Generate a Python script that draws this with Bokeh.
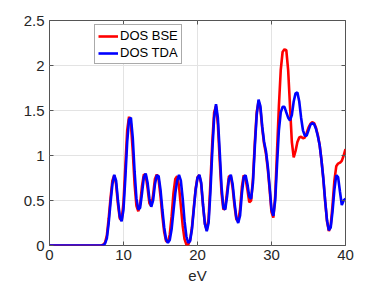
from bokeh.plotting import figure
from bokeh.models import LinearAxis, Range1d, Legend, LegendItem, FixedTicker
from bokeh.embed import file_html
from bokeh.resources import INLINE

# energy grid (eV) and read-off DOS values
ev = [0.0, 3.0, 6.0, 7.0, 7.25, 7.5, 7.75, 8.0, 8.25, 8.5, 8.75, 9.0, 9.25, 9.5, 9.75,
      10.0, 10.25, 10.5, 10.75, 11.0, 11.25, 11.5, 11.75, 12.0, 12.25, 12.5, 12.75,
      13.0, 13.25, 13.5, 13.75, 14.0, 14.25, 14.5, 14.75, 15.0, 15.25, 15.5, 15.75,
      16.0, 16.25, 16.5, 16.75, 17.0, 17.25, 17.5, 17.75, 18.0, 18.25, 18.5, 18.75,
      19.0, 19.25, 19.5, 19.75, 20.0, 20.25, 20.5, 20.75, 21.0, 21.25, 21.5, 21.75,
      22.0, 22.25, 22.5, 22.75, 23.0, 23.25, 23.5, 23.75, 24.0, 24.25, 24.5, 24.75,
      25.0, 25.25, 25.5, 25.75, 26.0, 26.25, 26.5, 26.75, 27.0, 27.25, 27.5, 27.75,
      28.0, 28.25, 28.5, 28.75, 29.0, 29.25, 29.5, 29.75, 30.0, 30.25, 30.5, 30.75,
      31.0, 31.25, 31.5, 31.75, 32.0, 32.25, 32.5, 32.75, 33.0, 33.25, 33.5, 33.75,
      34.0, 34.25, 34.5, 34.75, 35.0, 35.25, 35.5, 35.75, 36.0, 36.25, 36.5, 36.75,
      37.0, 37.25, 37.5, 37.75, 38.0, 38.25, 38.5, 38.75, 39.0, 39.25, 39.5, 39.75, 40.0]

dos_tda = [0.0, 0.0, 0.0, 0.0, 0.005, 0.02, 0.08, 0.25, 0.48, 0.68, 0.785, 0.72, 0.50, 0.32, 0.27,
           0.40, 0.75, 1.15, 1.40, 1.42, 1.20, 0.82, 0.52, 0.40, 0.42, 0.58, 0.76,
           0.80, 0.70, 0.52, 0.43, 0.50, 0.68, 0.78, 0.77, 0.62, 0.40, 0.20, 0.07,
           0.03, 0.06, 0.18, 0.38, 0.58, 0.72, 0.785, 0.72, 0.52, 0.27, 0.10, 0.03,
           0.05, 0.18, 0.40, 0.62, 0.75, 0.785, 0.70, 0.45, 0.24, 0.16, 0.25, 0.60,
           1.05, 1.42, 1.57, 1.42, 1.05, 0.65, 0.42, 0.40, 0.55, 0.74, 0.785, 0.68,
           0.48, 0.31, 0.25, 0.33, 0.58, 0.76, 0.78, 0.68, 0.54, 0.52, 0.70, 1.10,
           1.45, 1.62, 1.55, 1.32, 1.15, 1.05, 0.88, 0.65, 0.40, 0.33, 0.50, 0.90,
           1.28, 1.48, 1.54, 1.54, 1.48, 1.42, 1.39, 1.45, 1.60, 1.69, 1.70, 1.60,
           1.42, 1.28, 1.22, 1.22, 1.28, 1.34, 1.36, 1.35, 1.30, 1.22, 1.12, 0.95,
           0.75, 0.50, 0.28, 0.17, 0.20, 0.38, 0.62, 0.78, 0.76, 0.60, 0.45, 0.50, 0.52]

dos_bse = [0.0, 0.0, 0.0, 0.0, 0.01, 0.03, 0.11, 0.30, 0.53, 0.72, 0.78, 0.68, 0.46, 0.30, 0.28,
           0.48, 0.88, 1.28, 1.43, 1.35, 1.05, 0.68, 0.44, 0.38, 0.46, 0.66, 0.79,
           0.78, 0.64, 0.47, 0.44, 0.56, 0.74, 0.79, 0.73, 0.55, 0.33, 0.15, 0.05,
           0.04, 0.12, 0.32, 0.58, 0.74, 0.77, 0.66, 0.44, 0.22, 0.07, 0.01, 0.01,
           0.06, 0.20, 0.42, 0.63, 0.76, 0.78, 0.68, 0.44, 0.24, 0.17, 0.30, 0.70,
           1.15, 1.48, 1.55, 1.35, 0.95, 0.58, 0.40, 0.42, 0.60, 0.77, 0.77, 0.64,
           0.44, 0.29, 0.27, 0.40, 0.65, 0.78, 0.74, 0.62, 0.48, 0.50, 0.75, 1.15,
           1.48, 1.60, 1.52, 1.30, 1.13, 1.02, 0.85, 0.62, 0.37, 0.31, 0.55, 1.05,
           1.55, 1.95, 2.15, 2.18, 2.17, 1.95, 1.55, 1.15, 0.98, 1.05, 1.15, 1.20,
           1.21, 1.19, 1.20, 1.25, 1.31, 1.35, 1.37, 1.36, 1.31, 1.23, 1.12, 0.95,
           0.74, 0.49, 0.27, 0.16, 0.22, 0.45, 0.72, 0.88, 0.91, 0.92, 0.94, 1.00, 1.07]

x_ticks = [0, 10, 20, 30, 40]
y_ticks = [0, 0.5, 1, 1.5, 2, 2.5]
y_tick_labels = {0: "0", 0.5: "0.5", 1: "1", 1.5: "1.5", 2: "2", 2.5: "2.5"}

FONT = "Liberation Sans"
AX = "#262626"
TICK = "#555555"

p = figure(width=382, height=286, output_backend="svg", toolbar_location=None,
           x_range=Range1d(0, 40), y_range=Range1d(0, 2.5),
           min_border_left=49, min_border_right=37, min_border_top=20, min_border_bottom=40)
p.background_fill_color = "white"
p.border_fill_color = "white"
p.outline_line_color = TICK
p.outline_line_width = 1

r_bse = p.line(ev, dos_bse, line_color="#ff0000", line_width=2.6)
r_tda = p.line(ev, dos_tda, line_color="#0000ff", line_width=2.6)

# bottom axis
xa = p.xaxis[0]
xa.ticker = FixedTicker(ticks=x_ticks)
xa.axis_label = "eV"
xa.axis_label_text_font = FONT
xa.axis_label_text_font_size = "15px"
xa.axis_label_text_font_style = "normal"
xa.axis_label_text_color = AX
xa.axis_label_standoff = 4
xa.major_label_text_font = FONT
xa.major_label_text_font_size = "15px"
xa.major_label_text_color = AX
xa.major_label_standoff = 4
xa.major_tick_in = 4
xa.major_tick_out = 0
xa.minor_tick_line_color = None
xa.axis_line_color = None
xa.major_tick_line_color = TICK

ya = p.yaxis[0]
ya.ticker = FixedTicker(ticks=y_ticks)
ya.major_label_overrides = y_tick_labels
ya.major_label_text_font = FONT
ya.major_label_text_font_size = "15px"
ya.major_label_text_color = AX
ya.major_label_standoff = 5
ya.major_tick_in = 4
ya.major_tick_out = 0
ya.minor_tick_line_color = None
ya.axis_line_color = None
ya.major_tick_line_color = TICK

# mirrored tick marks on the top and right (no labels)
top = LinearAxis(ticker=FixedTicker(ticks=x_ticks), major_label_text_color=None,
                 major_tick_in=4, major_tick_out=0, minor_tick_line_color=None,
                 axis_line_color=None, major_tick_line_color=TICK, major_label_standoff=0)
right = LinearAxis(ticker=FixedTicker(ticks=y_ticks), major_label_text_color=None,
                   major_tick_in=4, major_tick_out=0, minor_tick_line_color=None,
                   axis_line_color=None, major_tick_line_color=TICK, major_label_standoff=0)
p.add_layout(top, "above")
p.add_layout(right, "right")

p.xgrid.ticker = FixedTicker(ticks=x_ticks)
p.ygrid.ticker = FixedTicker(ticks=y_ticks)
p.grid.grid_line_color = "#e3e3e3"
p.grid.grid_line_width = 1

legend = Legend(items=[LegendItem(label="DOS BSE", renderers=[r_bse]),
                       LegendItem(label="DOS TDA", renderers=[r_tda])],
                location=(45, 181))
legend.label_text_font = FONT
legend.label_text_font_size = "13px"
legend.label_text_color = "#000000"
legend.label_standoff = 2
legend.label_height = 14
legend.glyph_width = 20
legend.glyph_height = 14
legend.spacing = 2
legend.padding = 3
legend.margin = 0
legend.border_line_color = TICK
legend.border_line_width = 1
legend.background_fill_color = "white"
legend.background_fill_alpha = 1.0
p.add_layout(legend, "center")

open("out.html", "w").write(file_html(p, INLINE))
